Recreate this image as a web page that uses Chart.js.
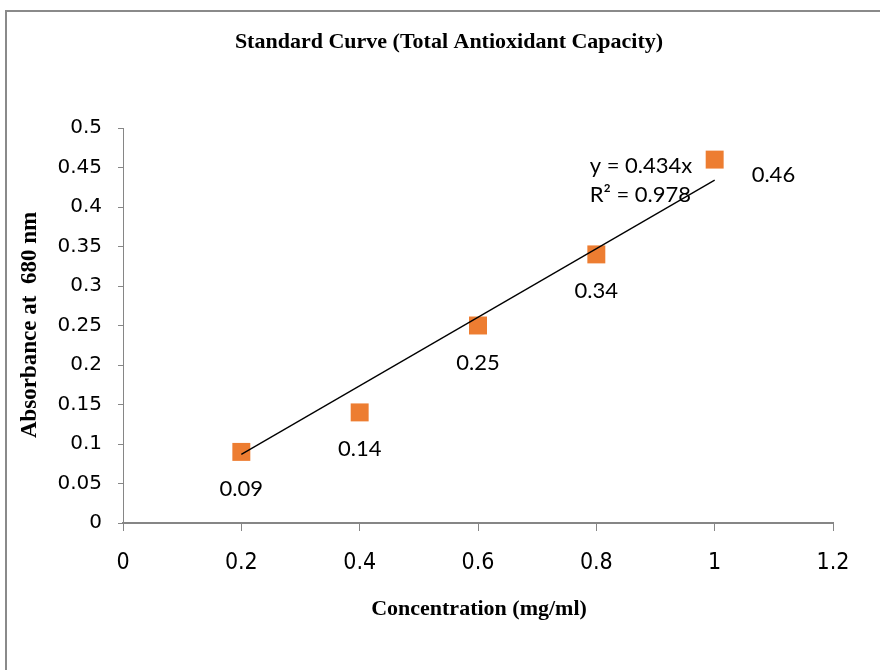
<!DOCTYPE html>
<html lang="en">
<head>
<meta charset="UTF-8">
<title>Standard Curve (Total Antioxidant Capacity)</title>
<script src="https://cdn.jsdelivr.net/npm/chart.js"></script>
<style>
  body { margin: 0; background: #fff; }
  canvas { display: block; }
</style>
</head>
<body>
<canvas id="curve" width="880" height="670"></canvas>
<script>
  // Standard curve readings
  const concentrations = [0.2, 0.4, 0.6, 0.8, 1.0];
  const absorbance = [0.09, 0.14, 0.25, 0.34, 0.46];

  // Linear trendline through the origin, as printed on the chart
  const trendSlope = 0.434;
  const trendR2 = 0.978;
  const trendFrom = 0.2;
  const trendTo = 1.0;

  // Axis ticks
  const xTicks = [0, 0.2, 0.4, 0.6, 0.8, 1, 1.2];
  const xTickLabels = ['0', '0.2', '0.4', '0.6', '0.8', '1', '1.2'];
  const yTicks = [0, 0.05, 0.1, 0.15, 0.2, 0.25, 0.3, 0.35, 0.4, 0.45, 0.5];
  const yTickLabels = ['0', '0.05', '0.1', '0.15', '0.2', '0.25', '0.3', '0.35', '0.4', '0.45', '0.5'];

  const chartTitle = 'Standard Curve (Total Antioxidant Capacity)';
  const xTitle = 'Concentration (mg/ml)';
  const yTitle = 'Absorbance at  680 nm';

  const axisGray = '#868686';
  const markerOrange = '#ED7D31';
  const serifBold = 'bold 22px "Liberation Serif", "Times New Roman", serif';
  const labelFont = '22px Lato, "Open Sans", sans-serif';

  const points = concentrations.map((x, i) => ({ x: x, y: absorbance[i] }));
  const trendPoints = [
    { x: trendFrom, y: trendSlope * trendFrom },
    { x: trendTo, y: trendSlope * trendTo }
  ];

  // Frame, titles and text labels
  const decorations = {
    id: 'decorations',
    beforeDraw(chart) {
      const ctx = chart.ctx;
      ctx.save();
      ctx.fillStyle = '#fff';
      ctx.fillRect(0, 0, chart.width, chart.height);
      ctx.strokeStyle = '#8a8a8a';
      ctx.lineWidth = 2;
      ctx.strokeRect(6, 11, chart.width + 20, chart.height + 20);
      ctx.restore();
    },
    afterDraw(chart) {
      const ctx = chart.ctx;
      const xs = chart.scales.x, ys = chart.scales.y;
      ctx.save();
      ctx.fillStyle = '#000';
      ctx.textAlign = 'center';
      ctx.textBaseline = 'middle';

      ctx.font = serifBold;
      ctx.fillText(chartTitle, 449, 42);
      ctx.fillText(xTitle, 479, 609);
      ctx.save();
      ctx.translate(30, 325);
      ctx.rotate(-Math.PI / 2);
      ctx.font = 'bold 23px "Liberation Serif", "Times New Roman", serif';
      ctx.fillText(yTitle, 0, 0);
      ctx.restore();

      // Data labels: below each marker, the last one to its right
      ctx.font = labelFont;
      points.forEach((p, i) => {
        const px = xs.getPixelForValue(p.x);
        const py = ys.getPixelForValue(p.y);
        const txt = String(absorbance[i]);
        if (i === points.length - 1) {
          ctx.textAlign = 'left';
          ctx.fillText(txt, px + 37, py + 15);
        } else {
          ctx.textAlign = 'center';
          ctx.fillText(txt, px, py + 37);
        }
      });

      // Trendline equation near its upper end
      const ex = xs.getPixelForValue(trendTo);
      const ey = ys.getPixelForValue(trendSlope * trendTo);
      ctx.textAlign = 'left';
      ctx.fillText('y = ' + trendSlope + 'x', ex - 125, ey - 14);
      ctx.fillText('R\u00B2 = ' + trendR2, ex - 125, ey + 15);
      ctx.restore();
    }
  };

  new Chart(document.getElementById('curve'), {
    data: {
      datasets: [
        {
          type: 'line',
          data: trendPoints,
          borderColor: '#000',
          borderWidth: 1.3,
          pointRadius: 0,
          fill: false,
          order: 0
        },
        {
          type: 'scatter',
          data: points,
          pointStyle: 'rect',
          pointRadius: 12.7,
          backgroundColor: markerOrange,
          borderWidth: 0,
          order: 1
        }
      ]
    },
    options: {
      responsive: false,
      animation: false,
      layout: { padding: { top: 128, right: 47, left: 0, bottom: 0 } },
      plugins: {
        legend: { display: false },
        tooltip: { enabled: false },
        title: { display: false }
      },
      scales: {
        x: {
          type: 'linear',
          position: 'bottom',
          min: 0,
          max: 1.2,
          afterBuildTicks: s => { s.ticks = xTicks.map(v => ({ value: v })); },
          afterFit: s => { s.height = 147; },
          grid: { drawOnChartArea: false, drawTicks: true, tickLength: 8, color: axisGray, lineWidth: 1 },
          border: { color: axisGray, width: 2 },
          ticks: {
            autoSkip: false,
            maxRotation: 0,
            padding: 18,
            color: '#000',
            font: { family: '"Liberation Sans Narrow", "DejaVu Sans Condensed", sans-serif', size: 23 },
            callback: (v, i) => xTickLabels[i]
          }
        },
        y: {
          type: 'linear',
          min: 0,
          max: 0.5,
          afterBuildTicks: s => { s.ticks = yTicks.map(v => ({ value: v })); },
          afterFit: s => { s.width = 123; },
          grid: { drawOnChartArea: false, drawTicks: true, tickLength: 5, color: axisGray, lineWidth: 1 },
          border: { color: axisGray, width: 1 },
          ticks: {
            autoSkip: false,
            padding: 16,
            color: '#000',
            font: { family: '"DejaVu Sans", sans-serif', size: 20 },
            callback: (v, i) => yTickLabels[i]
          }
        }
      }
    },
    plugins: [decorations]
  });
</script>
</body>
</html>
